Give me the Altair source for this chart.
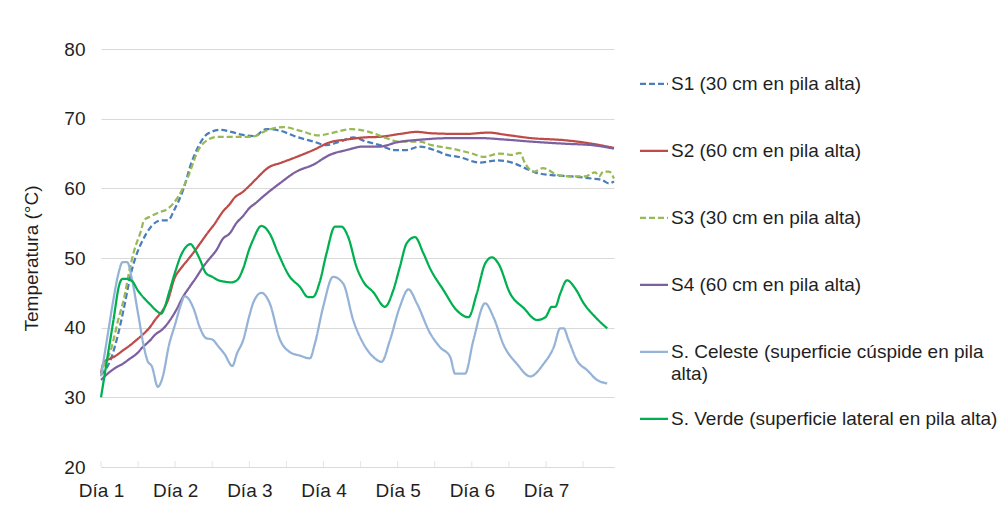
import altair as alt
import pandas as pd

# ---- data (hours since start, temperature °C) ----
S1_H = [0, 3.2, 5.5, 7.5, 9.7, 12, 13, 16.2, 19.5, 21.7, 23.7, 26.6, 29.2, 31.5, 33.4, 35.7, 38.9, 42.2, 45.4, 49.6,
        53.5, 57.7, 63.2, 68.8, 73, 77.2, 81.7, 85.9, 90.2, 94.7, 98.9, 103.1, 109, 111.9, 115.8, 122.6, 128.1, 133.6,
        137.2, 140.4, 145.9, 152.4, 158.9, 162.1, 164.4, 166]
S1_T = [33.2, 35.5, 39, 43, 47.8, 51.1, 52.1, 54.5, 55.4, 55.4, 56.9, 59.8, 63.6, 66, 67.4, 68.1, 68.4, 68.1, 67.7, 67.5,
        68.5, 68.3, 67.4, 66.7, 66.2, 66.7, 67.3, 66.7, 66.2, 65.5, 65.5, 66, 65.3, 64.8, 64.5, 63.7, 64, 63.6,
        62.9, 62.3, 61.9, 61.7, 61.4, 61.2, 60.7, 61]

S2_H = [0, 1, 2.7, 4.9, 7, 9.2, 11.4, 13.5, 15.7, 17.8, 20, 21.7, 23.7, 26, 28.2, 30.3, 32.4, 34.5, 36.6, 39.5, 41.6,
        43.1, 45.9, 48.1, 50.1, 54.6, 57.8, 63.2, 68.7, 74, 79.5, 84.9, 90.3, 96.6, 102.2, 107, 117.7, 125.5, 130.7,
        139.4, 150.2, 158.9, 166]
S2_T = [33.5, 35.1, 35.5, 36, 36.7, 37.4, 38.2, 39, 40, 41.3, 42.5, 44, 47, 48.6, 49.8, 51, 52.3, 53.6, 54.8, 56.7, 57.7,
        58.6, 59.5, 60.4, 61.3, 63.1, 63.6, 64.5, 65.5, 66.6, 67, 67.3, 67.4, 67.8, 68.1, 67.9, 67.8, 68, 67.7,
        67.2, 66.9, 66.4, 65.8]

S3_H = [0, 1, 3.2, 5.5, 7.6, 9.1, 10.7, 13, 13.9, 16.2, 18.5, 21.7, 25, 28.2, 31.5, 34.7, 37.9, 48.6, 54.2, 59, 64.9,
        70.4, 75.2, 81.1, 85.9, 92.4, 96.3, 103.1, 107, 113.5, 120, 123.9, 128.7, 133, 135.6, 137.2, 140.1, 143,
        147.9, 152.4, 156.6, 159.9, 161.2, 162.5, 164.4, 166]
S3_T = [33.2, 34.5, 36.8, 41, 44.5, 48, 51, 54, 55.4, 56, 56.5, 57.1, 58.8, 61.7, 65.5, 67, 67.4, 67.4, 68.4, 68.8, 68.2,
        67.6, 68, 68.5, 68.2, 67.2, 66.7, 66.7, 66.2, 65.7, 65, 64.5, 65, 64.8, 65.1, 63.6, 62.4, 62.9,
        61.9, 61.7, 61.7, 62.3, 61.7, 62.4, 62.4, 61.4]

S4_H = [0, 2.7, 4.9, 7, 9.2, 11.4, 13.5, 15.7, 17.8, 20, 22.2, 24.3, 26.5, 28.6, 30.8, 33, 35.1, 37.3, 39.5, 41.6, 43.8,
        45.9, 48.1, 50.1, 52.4, 57.8, 63.2, 68.7, 74, 79.5, 84.9, 90.3, 95.7, 103.8, 112.4, 123.2, 130.7, 139.4,
        150.2, 158.9, 166]
S4_T = [32.5, 33.6, 34.3, 34.8, 35.5, 36.2, 37.2, 38.1, 39.1, 39.8, 41, 42.5, 44.4, 45.8, 47.2, 48.7, 49.9, 51.1, 52.8,
        53.5, 55, 56, 57.2, 57.9, 58.8, 60.7, 62.4, 63.4, 64.8, 65.5, 66, 66, 66.6, 67, 67.2, 67.2, 67, 66.7,
        66.4, 66.2, 65.7]

CEL_H = [0, 2, 4, 5.5, 7, 8.5, 10, 12, 14, 15, 16.5, 18.4, 20, 22, 24, 26, 27, 28, 30, 32, 34, 36, 38, 40, 42.5, 44,
         46, 48, 49.2, 51.9, 54.6, 57.8, 61.1, 64.3, 67.6, 69.2, 71.9, 75.1, 78.4, 81.6, 84.9, 88.1, 90.8, 93.5,
         96.7, 99.5, 102.2, 106.5, 109.7, 113, 114.6, 117.8, 120.5, 124.3, 127, 130.3, 134.6, 138.9, 143.2,
         146.5, 148.6, 149.7, 151.3, 154, 157.3, 160.5, 163.8]
CEL_T = [33, 38.5, 44, 47.5, 49.4, 49.4, 47, 42, 37, 35.3, 34.4, 31.5, 33, 37.5, 40.5, 43.5, 44.5, 44.3, 42.7, 40,
         38.5, 38.3, 37.3, 36.2, 34.5, 36.3, 38.2, 41.7, 43.5, 45, 43.5, 38.4, 36.5, 36, 35.6, 37.7, 43, 47.3,
         46.3, 41.1, 37.7, 35.8, 35.1, 38.2, 43, 45.5, 43.5, 39.2, 37.2, 35.8, 33.4, 33.4, 38.2, 43.5, 41.5,
         37.5, 34.8, 33, 34.8, 37.2, 39.9, 39.9, 38.2, 35.3, 33.9, 32.5, 32]

VER_H = [0, 2, 4, 6, 7, 8, 10, 12, 14, 16, 18, 19.5, 20.5, 22, 24, 26, 28, 29, 30, 32, 34, 36, 38, 40, 42, 44, 46, 48,
         49.2, 51.9, 54.6, 57.3, 61.1, 64.3, 67, 68.6, 70.8, 73, 75.7, 77.8, 80, 82.7, 84.9, 88.1, 91.9, 94.6,
         96.7, 98.9, 101.6, 104.3, 106.5, 110.8, 115.1, 118.9, 121.6, 124.3, 126.5, 128.6, 132.4, 136.8, 141.1,
         143.8, 145.9, 147, 148.6, 150.8, 153.5, 156.2, 160, 163.8]
VER_T = [30, 35.5, 41, 46.3, 47, 47, 46.7, 45.3, 44.2, 43.3, 42.4, 42, 42.8, 45, 48, 50.5, 51.8, 52, 51.5, 49.8, 47.8,
         47.3, 46.8, 46.6, 46.5, 46.8, 48.5, 51.3, 52.6, 54.6, 53.5, 50.7, 47.3, 45.9, 44.4, 44.4, 46.6, 50.7,
         54.5, 54.5, 53, 48.7, 46.6, 45.1, 43, 45.4, 48.7, 52.1, 53, 50.7, 48.5, 45.4, 42.5, 41.5, 44.9, 49.2,
         50.1, 49.2, 44.9, 42.8, 41.1, 41.5, 43, 43, 44.9, 46.8, 45.6, 43.5, 41.5, 39.9]

NAMES = ["S1 (30 cm en pila alta)", "S2 (60 cm en pila alta)", "S3 (30 cm en pila alta)",
         "S4 (60 cm en pila alta)", "S. Celeste (superficie cúspide en pila\nalta)",
         "S. Verde (superficie lateral en pila alta)"]
COLORS = ["#4A7EBB", "#BE4B48", "#98B954", "#7D60A0", "#95B3D7", "#00B050"]
DASHES = [[6, 3], [1, 0], [6, 3], [1, 0], [1, 0], [1, 0]]
SERIES = [(S1_H, S1_T), (S2_H, S2_T), (S3_H, S3_T), (S4_H, S4_T), (CEL_H, CEL_T), (VER_H, VER_T)]

DAY_TICKS = [0, 24, 48, 72, 96, 120, 144]
HALF_TICKS = [0, 12, 24, 36, 48, 60, 72, 84, 96, 108, 120, 132, 144, 156]
Y_TICKS = [20, 30, 40, 50, 60, 70, 80]

FONT = "Liberation Sans"
TXT = "#1F1F1F"
GRID = "#D9D9D9"

xscale = alt.Scale(domain=[0, 166], nice=False, zero=False)
yscale = alt.Scale(domain=[20, 80], nice=False, zero=False)

layers = []
for i, ((hs, ts), col, dash) in enumerate(zip(SERIES, COLORS, DASHES)):
    df = pd.DataFrame({"h": hs, "t": ts})
    if i == 0:
        x = alt.X("h:Q", scale=xscale, title=None,
                  axis=alt.Axis(values=DAY_TICKS, labelExpr="'Día ' + (datum.value/24 + 1)",
                                grid=False, ticks=False, domain=True, domainColor=GRID, domainWidth=1,
                                labelFlush=False, labelOverlap=False,
                                labelFontSize=19, labelColor=TXT, labelPadding=14, labelFont=FONT))
        y = alt.Y("t:Q", scale=yscale, title="Temperatura (°C)",
                  axis=alt.Axis(values=Y_TICKS, grid=True, gridColor=GRID, gridWidth=1, domain=False,
                                ticks=False, labelFontSize=19, labelColor=TXT, labelPadding=16,
                                labelFlush=False,
                                labelFont=FONT, titleFont=FONT, titleFontSize=19, titleFontWeight="normal",
                                titleColor=TXT, titlePadding=22))
    else:
        x = alt.X("h:Q", scale=xscale)
        y = alt.Y("t:Q", scale=yscale)
    mk = alt.Chart(df).mark_line(color=col, strokeWidth=2.25, strokeDash=dash, interpolate="monotone")
    layers.append(mk.encode(x=x, y=y))

ticks = alt.Chart(pd.DataFrame({"h": HALF_TICKS})).mark_tick(
    orient="vertical", color=GRID, size=6, thickness=1, yOffset=-3
).encode(x=alt.X("h:Q", scale=xscale), y=alt.datum(20, scale=yscale))

main = alt.layer(ticks, *layers).properties(width=513, height=418)

leg_df = pd.DataFrame({"name": NAMES, "o": list(range(len(NAMES)))})
lscale = alt.Scale(domain=[-0.52, 5.72], nice=False, zero=False, reverse=True)
leg_y = alt.Y("o:Q", scale=lscale, axis=None)
leg_color = alt.Color("name:N", scale=alt.Scale(domain=NAMES, range=COLORS), legend=None)
leg_dash = alt.StrokeDash("name:N", scale=alt.Scale(domain=NAMES, range=DASHES), legend=None)

leg_lines = alt.Chart(leg_df).mark_rule(strokeWidth=2.25).encode(
    x=alt.value(0), x2=alt.value(28), y=leg_y, color=leg_color, strokeDash=leg_dash)
leg_text = alt.Chart(leg_df).mark_text(
    align="left", baseline="top", dy=-9, fontSize=19, lineHeight=22, lineBreak="\n",
    color=TXT, font=FONT
).encode(x=alt.value(31), y=leg_y, text="name:N")
legend = alt.layer(leg_lines, leg_text).properties(width=340, height=418)

chart = alt.hconcat(main, legend, spacing=19).properties(
    padding={"left": 14, "top": 32, "right": 0, "bottom": 0}
).configure(font=FONT).configure_view(strokeWidth=0)

chart.save("out.html", embed_options={"renderer": "svg", "actions": False})
